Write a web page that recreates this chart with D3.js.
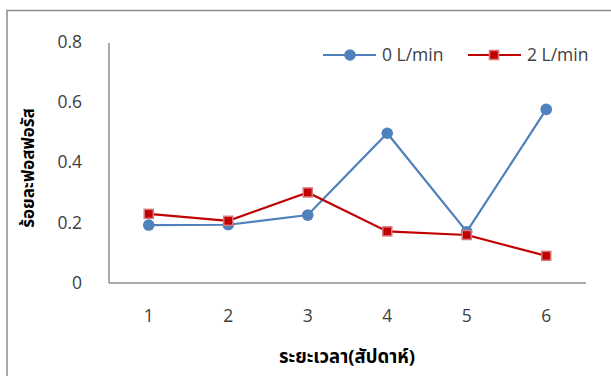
<!DOCTYPE html>
<html>
<head>
<meta charset="utf-8">
<script src="https://cdn.jsdelivr.net/npm/d3@7"></script>
<style>
  body { margin: 0; background: #fff; }
  svg { display: block; }
  .tick-label { font-family: "Open Sans", "Liberation Sans", sans-serif; font-size: 17.5px; fill: #404040; }
  .title { font-family: "Noto Sans Thai", "Tahoma", "DejaVu Sans", sans-serif; font-weight: bold; fill: #000; }
</style>
</head>
<body>
<svg id="chart" width="611" height="376"></svg>
<script>
// Weeks on the x axis
const weeks = ["1", "2", "3", "4", "5", "6"];
// Phosphorus percentage per aeration rate
const flow0 = [0.192, 0.193, 0.225, 0.496, 0.170, 0.575];
const flow2 = [0.229, 0.206, 0.300, 0.171, 0.159, 0.090];
const seriesNames = ["0 L/min", "2 L/min"];
const yTicks = [0, 0.2, 0.4, 0.6, 0.8];

const svg = d3.select("#chart");
const blue = "#4F81BD", red = "#C00000", grid = "#8c8c8c";

// Chart frame
svg.append("path")
  .attr("d", "M7,380 L7,10.5 L615,10.5")
  .attr("fill", "none").attr("stroke", grid).attr("stroke-width", 1.5);

const x = d3.scaleBand().domain(weeks).range([109, 586]);
const y = d3.scaleLinear().domain([0, 0.8]).range([283, 41.5]);

// Axes lines
svg.append("line")
  .attr("x1", 109).attr("x2", 109).attr("y1", y(0.8) + 1.5).attr("y2", y(0))
  .attr("stroke", grid).attr("stroke-width", 1.5);
svg.append("line")
  .attr("x1", 109).attr("x2", 586).attr("y1", y(0)).attr("y2", y(0))
  .attr("stroke", grid).attr("stroke-width", 1.5);

// Y tick labels
svg.append("g").selectAll("text").data(yTicks).join("text")
  .attr("class", "tick-label")
  .attr("x", 82).attr("y", d => y(d)).attr("dy", "0.35em")
  .attr("text-anchor", "end")
  .text(d => d === 0 ? "0" : d3.format(".1f")(d));

// X tick labels
svg.append("g").selectAll("text").data(weeks).join("text")
  .attr("class", "tick-label")
  .attr("x", d => x(d) + x.bandwidth() / 2).attr("y", 316).attr("dy", "0.35em")
  .attr("text-anchor", "middle")
  .text(d => d);

// Axis titles
svg.append("text").attr("class", "title").style("font-size", "18.5px")
  .attr("x", 347).attr("y", 357).attr("dy", "0.35em")
  .attr("text-anchor", "middle").text("ระยะเวลา(สัปดาห์)");
svg.append("text").attr("class", "title").style("font-size", "17px")
  .attr("transform", "translate(28,168) rotate(-90)")
  .attr("dy", "0.35em").attr("text-anchor", "middle").text("ร้อยละฟอสฟอรัส");

const cx = (d, i) => x(weeks[i]) + x.bandwidth() / 2;
const line = d3.line().x((d, i) => cx(d, i)).y(d => y(d));

// Series 0 L/min
svg.append("path").datum(flow0)
  .attr("d", line).attr("fill", "none").attr("stroke", blue).attr("stroke-width", 2.2);
svg.append("g").selectAll("circle").data(flow0).join("circle")
  .attr("cx", cx).attr("cy", d => y(d)).attr("r", 5.8).attr("fill", blue);

// Series 2 L/min
svg.append("path").datum(flow2)
  .attr("d", line).attr("fill", "none").attr("stroke", red).attr("stroke-width", 2.2);
svg.append("g").selectAll("rect").data(flow2).join("rect")
  .attr("x", (d, i) => cx(d, i) - 4.5).attr("y", d => y(d) - 4.5)
  .attr("width", 9).attr("height", 9)
  .attr("fill", red).attr("stroke", "#d9777a").attr("stroke-width", 1.5);

// Legend
const lg = svg.append("g");
lg.append("line").attr("x1", 323).attr("x2", 376).attr("y1", 55).attr("y2", 55)
  .attr("stroke", blue).attr("stroke-width", 2.2);
lg.append("circle").attr("cx", 350).attr("cy", 55).attr("r", 5.8).attr("fill", blue);
lg.append("text").attr("class", "tick-label").attr("x", 382).attr("y", 55).attr("dy", "0.35em")
  .text(seriesNames[0]);
lg.append("line").attr("x1", 468).attr("x2", 521).attr("y1", 55).attr("y2", 55)
  .attr("stroke", red).attr("stroke-width", 2.2);
lg.append("rect").attr("x", 494 - 4.5).attr("y", 55 - 4.5).attr("width", 9).attr("height", 9)
  .attr("fill", red).attr("stroke", "#d9777a").attr("stroke-width", 1.5);
lg.append("text").attr("class", "tick-label").attr("x", 527).attr("y", 55).attr("dy", "0.35em")
  .text(seriesNames[1]);
</script>
</body>
</html>
